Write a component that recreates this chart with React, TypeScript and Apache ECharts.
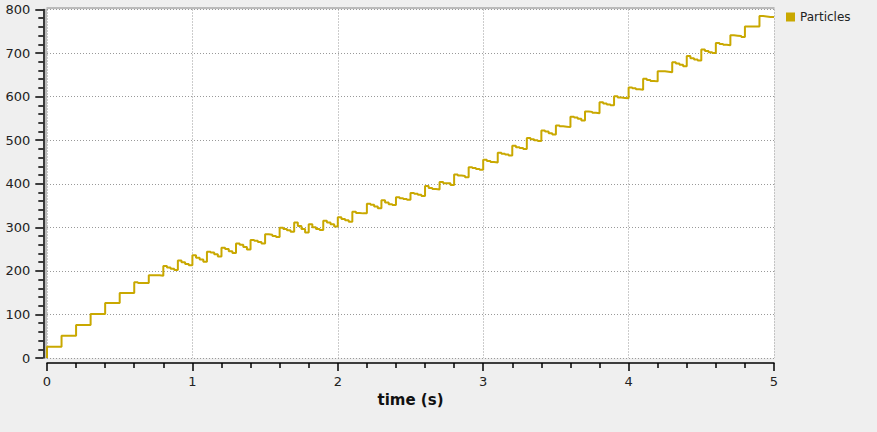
import React, { useEffect, useRef } from "react";
import * as echarts from "echarts";

// time sampling of the recorded counts (seconds)
const SAMPLE_DT = 0.025;
// x axis tick labels
const timeTicks = [0, 1, 2, 3, 4, 5];
// y axis tick labels
const countTicks = [0, 100, 200, 300, 400, 500, 600, 700, 800];
const seriesName = "Particles";

// particle count, one value per sample (4 samples per 0.1 s)
const particles = [
  // 0.0 - 0.9
  26, 26, 26, 26, 51, 51, 51, 51, 76, 76, 76, 76, 101, 101, 101, 101, 126, 126, 126, 126,
  149, 149, 149, 149, 174, 172, 172, 172, 190, 190, 190, 189, 211, 208, 205, 202, 224, 220, 216, 213,
  // 1.0 - 1.9
  236, 230, 226, 221, 244, 242, 238, 233, 253, 250, 245, 241, 263, 260, 255, 249, 271, 269, 266, 263,
  284, 283, 280, 278, 299, 296, 293, 290, 311, 303, 296, 288, 307, 300, 296, 294, 315, 311, 307, 302,
  // 2.0 - 2.9
  323, 319, 316, 313, 336, 333, 332, 332, 354, 352, 348, 344, 362, 357, 353, 351, 369, 367, 365, 363,
  379, 377, 375, 372, 395, 390, 388, 387, 404, 401, 401, 397, 421, 419, 418, 415, 438, 436, 434, 432,
  // 3.0 - 3.9
  455, 452, 450, 449, 471, 469, 467, 465, 487, 484, 482, 480, 505, 502, 500, 498, 522, 520, 516, 513,
  534, 532, 531, 530, 554, 552, 549, 545, 566, 565, 563, 562, 587, 584, 582, 580, 601, 598, 597, 596,
  // 4.0 - 4.9
  621, 619, 617, 616, 641, 638, 636, 635, 658, 658, 657, 656, 679, 676, 673, 670, 693, 688, 685, 683,
  708, 705, 702, 700, 723, 721, 719, 718, 741, 740, 739, 737, 761, 761, 761, 761, 785, 784, 783, 783,
  // 5.0
  783,
];
const startPoint: [number, number] = [0, 0];

const FONT = "DejaVu Sans";
const LINE_COLOR = "#c9a800";

export default function App() {
  const ref = useRef<HTMLDivElement>(null);

  useEffect(() => {
    if (!ref.current) return;
    const chart = echarts.init(ref.current, undefined, { renderer: "svg" });
    const data: [number, number][] = [startPoint].concat(
      particles.map((v, i) => [Math.round(i * SAMPLE_DT * 1000) / 1000, v] as [number, number])
    );
    const xMin = timeTicks[0];
    const xMax = timeTicks[timeTicks.length - 1];
    const yMin = countTicks[0];
    const yMax = countTicks[countTicks.length - 1];

    chart.setOption({
      animation: false,
      backgroundColor: "#efefef",
      textStyle: { fontFamily: FONT },
      legend: {
        data: [seriesName],
        left: 781,
        top: 6,
        icon: "rect",
        itemWidth: 9,
        itemHeight: 9,
        itemGap: 5,
        textStyle: { fontFamily: FONT, fontSize: 12, color: "#222" },
      },
      grid: {
        left: 47,
        top: 9.5,
        right: 103,
        bottom: 74,
        show: true,
        backgroundColor: "#ffffff",
        borderWidth: 0,
      },
      xAxis: [
        {
          type: "value",
          min: xMin,
          max: xMax,
          interval: 1,
          position: "bottom",
          offset: 5,
          name: "time (s)",
          nameLocation: "middle",
          nameGap: 26,
          nameTextStyle: { fontFamily: FONT, fontSize: 15, fontWeight: "bold", color: "#111" },
          axisLine: { show: true, onZero: false, lineStyle: { color: "#000", width: 1.5 } },
          axisTick: { show: true, length: 8, lineStyle: { color: "#000", width: 1.5 } },
          minorTick: { show: true, splitNumber: 5, length: 5, lineStyle: { color: "#000", width: 1.5 } },
          axisLabel: { fontFamily: FONT, fontSize: 13, color: "#222", margin: 12 },
          splitLine: { show: true, lineStyle: { color: "#999", width: 1, type: [1, 2] } },
        },
        {
          type: "value",
          min: xMin,
          max: xMax,
          position: "top",
          offset: 2,
          axisLine: { show: true, onZero: false, lineStyle: { color: "#aaaaaa", width: 1.5 } },
          axisTick: { show: false },
          axisLabel: { show: false },
          splitLine: { show: false },
        },
      ],
      yAxis: [
        {
          type: "value",
          min: yMin,
          max: yMax,
          interval: 100,
          position: "left",
          offset: 3.7,
          axisLine: { show: true, onZero: false, lineStyle: { color: "#000", width: 1.5 } },
          axisTick: { show: true, length: 8, lineStyle: { color: "#000", width: 1.5 } },
          minorTick: { show: true, splitNumber: 5, length: 5, lineStyle: { color: "#000", width: 1.5 } },
          axisLabel: { fontFamily: FONT, fontSize: 13, color: "#222", margin: 13 },
          splitLine: { show: true, lineStyle: { color: "#999", width: 1, type: [1, 2] } },
        },
        {
          type: "value",
          min: yMin,
          max: yMax,
          position: "left",
          offset: 1.5,
          axisLine: { show: true, onZero: false, lineStyle: { color: "#aaaaaa", width: 1.5 } },
          axisTick: { show: false },
          axisLabel: { show: false },
          splitLine: { show: false },
        },
      ],
      series: [
        {
          name: seriesName,
          type: "line",
          step: "end",
          xAxisIndex: 0,
          yAxisIndex: 0,
          data,
          showSymbol: false,
          symbol: "none",
          color: LINE_COLOR,
          lineStyle: { color: LINE_COLOR, width: 2 },
        },
      ],
    });

    return () => chart.dispose();
  }, []);

  return <div ref={ref} style={{ width: 877, height: 432, position: "fixed", left: 0, top: 0 }} />;
}
